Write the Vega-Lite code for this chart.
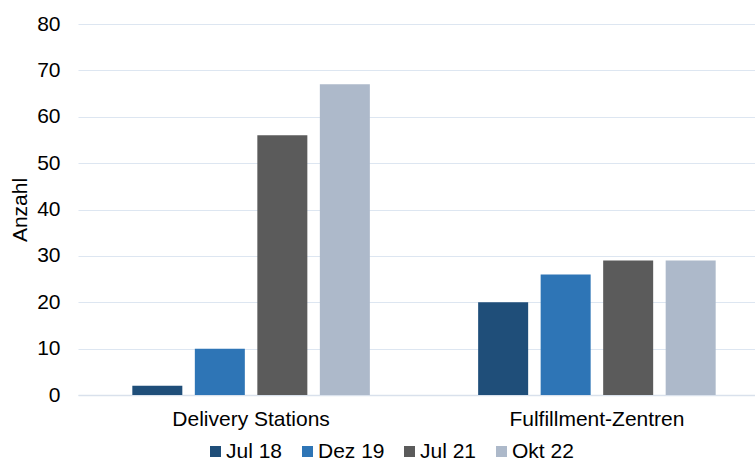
{
  "$schema": "https://vega.github.io/schema/vega-lite/v6.json",
  "autosize": "none",
  "padding": {"left": 78, "top": 24, "right": 0, "bottom": 65},
  "width": 692,
  "height": 371,
  "background": "white",
  "config": {
    "view": {"stroke": null},
    "font": "Liberation Sans",
    "axis": {"labelFont": "Liberation Sans", "titleFont": "Liberation Sans", "labelColor": "#000000", "titleColor": "#000000"},
    "legend": {"labelFont": "Liberation Sans"}
  },
  "data": {
    "values": [
      {"gruppe": "Delivery Stations", "zeit": "Jul 18", "anzahl": 2},
      {"gruppe": "Delivery Stations", "zeit": "Dez 19", "anzahl": 10},
      {"gruppe": "Delivery Stations", "zeit": "Jul 21", "anzahl": 56},
      {"gruppe": "Delivery Stations", "zeit": "Okt 22", "anzahl": 67},
      {"gruppe": "Fulfillment-Zentren", "zeit": "Jul 18", "anzahl": 20},
      {"gruppe": "Fulfillment-Zentren", "zeit": "Dez 19", "anzahl": 26},
      {"gruppe": "Fulfillment-Zentren", "zeit": "Jul 21", "anzahl": 29},
      {"gruppe": "Fulfillment-Zentren", "zeit": "Okt 22", "anzahl": 29}
    ]
  },
  "mark": {"type": "bar"},
  "encoding": {
    "x": {
      "field": "gruppe", "type": "nominal",
      "scale": {"paddingInner": 0.277, "paddingOuter": 0.139},
      "axis": {"title": null, "labelAngle": 0, "labelFontSize": 21, "labelPadding": 13, "ticks": false, "domainColor": "#d9e1ec", "domainWidth": 1.5}
    },
    "xOffset": {
      "field": "zeit", "type": "nominal", "sort": ["Jul 18", "Dez 19", "Jul 21", "Okt 22"],
      "scale": {"paddingInner": 0.2, "paddingOuter": 0.1}
    },
    "y": {
      "field": "anzahl", "type": "quantitative",
      "scale": {"domain": [0, 80], "nice": false},
      "axis": {"title": "Anzahl", "titleFontSize": 21, "titleFontWeight": "normal", "titlePadding": 6, "labelFontSize": 21, "labelPadding": 18, "values": [0, 10, 20, 30, 40, 50, 60, 70, 80], "labelOverlap": false, "ticks": false, "domain": false, "gridColor": "#dde6f1", "gridWidth": 1.2}
    },
    "color": {
      "field": "zeit", "type": "nominal", "sort": ["Jul 18", "Dez 19", "Jul 21", "Okt 22"],
      "scale": {"domain": ["Jul 18", "Dez 19", "Jul 21", "Okt 22"], "range": ["#1f4e79", "#2e75b6", "#5b5b5b", "#adb9ca"]},
      "legend": {"title": null, "orient": "none", "direction": "horizontal", "legendX": 127, "legendY": 417, "gridAlign": "none", "symbolType": "square", "symbolSize": 121, "symbolStrokeWidth": 0, "labelFontSize": 21, "labelOffset": 0, "columnPadding": 14, "labelColor": "#000000"}
    }
  }
}
